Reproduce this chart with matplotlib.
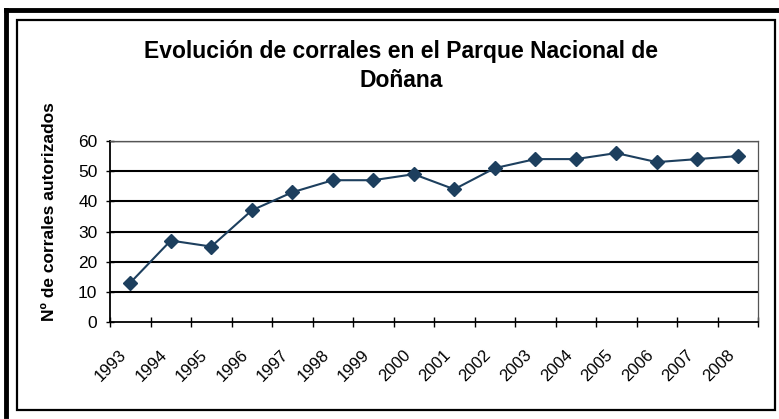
import matplotlib
matplotlib.use("Agg")
import matplotlib.pyplot as plt
from matplotlib.lines import Line2D
from matplotlib.patches import Rectangle
import matplotlib.transforms as mtransforms

years = ["1993", "1994", "1995", "1996", "1997", "1998", "1999", "2000",
         "2001", "2002", "2003", "2004", "2005", "2006", "2007", "2008"]
corrales = [13, 27, 25, 37, 43, 47, 47, 49, 44, 51, 54, 54, 56, 53, 54, 55]
yticks = [0, 10, 20, 30, 40, 50, 60]

title = "Evolución de corrales en el Parque Nacional de\nDoñana"
ylabel = "Nº de corrales autorizados"

plt.rcParams['font.family'] = ['Liberation Sans', 'DejaVu Sans']

W, H = 779, 419
fig = plt.figure(figsize=(W / 100, H / 100), dpi=100)
fig.patch.set_facecolor("white")

def fx(px):
    return px / W

def fy(py):
    return 1 - py / H

fig.add_artist(Line2D([fx(6), fx(777)], [fy(10), fy(10)], color="black", lw=3.5))
fig.add_artist(Line2D([fx(6), fx(6)], [fy(10), fy(416)], color="black", lw=3.5))
fig.add_artist(Rectangle((fx(17), fy(410)), fx(775) - fx(17), fy(20) - fy(410),
                         fill=False, edgecolor="black", lw=1.6))

ax = fig.add_axes([fx(110), fy(322), fx(758) - fx(110), fy(141) - fy(322)])
n = len(years)
x = list(range(n))
ax.set_xlim(-0.5, n - 0.5)
ax.set_ylim(0, 60)

for v in yticks[1:]:
    ax.axhline(v, color="black", lw=1.5 if v < 60 else 1.0, zorder=1)

ax.plot(x, corrales, color="#1d3f5e", lw=1.5, marker="D", markersize=7,
        markerfacecolor="#1d3f5e", markeredgecolor="#1d3f5e", zorder=3)

ax.set_yticks(yticks)
ax.set_yticklabels([str(v) for v in yticks], fontsize=12.5)
ax.tick_params(axis="y", direction="inout", length=6, width=1, pad=6)

ax.set_xticks([i - 0.5 for i in range(n + 1)], minor=True)
ax.set_xticks(x)
ax.set_xticklabels(years, fontsize=12, rotation=45, ha="right",
                   rotation_mode="anchor", va="center")
ax.tick_params(axis="x", which="major", length=0, pad=22)
ax.tick_params(axis="x", which="minor", direction="inout", length=7, width=1)
offset = mtransforms.ScaledTranslation(-6 / 100, 0, fig.dpi_scale_trans)
for lab in ax.get_xticklabels():
    lab.set_transform(lab.get_transform() + offset)

for s in ["left", "bottom"]:
    ax.spines[s].set_linewidth(1.3)
    ax.spines[s].set_color("black")
for s in ["top", "right"]:
    ax.spines[s].set_linewidth(0.9)
    ax.spines[s].set_color("#555555")

fig.text(fx(401), fy(66), title, ha="center", va="center", fontsize=16.5,
         fontweight="bold", linespacing=1.3)
fig.text(fx(50), fy(212), ylabel, ha="center", va="center", rotation=90,
         fontsize=12.5, fontweight="bold")

fig.savefig("out.png", dpi=100, facecolor="white")
